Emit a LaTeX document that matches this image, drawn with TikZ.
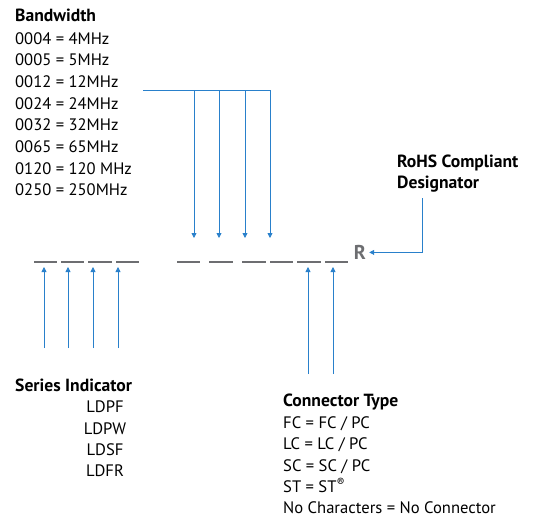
\documentclass[tikz,border=0pt]{standalone}
\usepackage{fontspec}
\setmainfont{PT Sans}
\usetikzlibrary{arrows.meta}
\definecolor{linkblue}{RGB}{41,128,203}
\definecolor{slotgray}{RGB}{109,110,113}
\begin{document}
\begin{tikzpicture}[x=1pt,y=-1pt,
    txt/.style={anchor=base west, inner sep=0pt, font=\fontsize{16.6}{18}\selectfont},
    head/.style={txt, font=\fontsize{17.6}{18}\selectfont\bfseries},
    slot/.style={slotgray, line width=2.5pt},
    feed/.style={linkblue, line width=0.8pt, -{Triangle[length=5pt,width=5pt]}}]
    \useasboundingbox (0,0) rectangle (533,517);
    %Bandwidth
    \node[head] (bw) at (15,21.7) {Bandwidth};
    \node[txt] (bw1) at (15,44) {0004 = 4MHz};
    \node[txt] (bw2) at (15,65.7) {0005 = 5MHz};
    \node[txt] (bw3) at (15,87.4) {0012 = 12MHz};
    \node[txt] (bw4) at (15,109.1) {0024 = 24MHz};
    \node[txt] (bw5) at (15,130.8) {0032 = 32MHz};
    \node[txt] (bw6) at (15,152.5) {0065 = 65MHz};
    \node[txt] (bw7) at (15,174.2) {0120 = 120 MHz};
    \node[txt] (bw8) at (15,195.9) {0250 = 250MHz};
    %RoHS
    \node[head] (rohs) at (397,167.7) {RoHS Compliant};
    \node[head] (rohs2) at (397,188.5) {Designator};
    %Series Indicator
    \node[head] (ser) at (15,391) {Series Indicator};
    \node[txt, anchor=base] (ser1) at (105,412) {LDPF};
    \node[txt, anchor=base] (ser2) at (105,434) {LDPW};
    \node[txt, anchor=base] (ser3) at (105,455) {LDSF};
    \node[txt, anchor=base] (ser4) at (105,476) {LDFR};
    %Connector Type
    \node[head] (con) at (283,406.5) {Connector Type};
    \node[txt] (con1) at (283,428) {FC = FC / PC};
    \node[txt] (con2) at (283,449.5) {LC = LC / PC};
    \node[txt] (con3) at (283,471) {SC = SC / PC};
    \node[txt] (con4) at (283,492.5) {ST = ST\textsuperscript{\textregistered}};
    \node[txt] (con5) at (283,513.5) {No Characters = No Connector};
    %Part number blanks
    \foreach \a/\b in {34/57,61/84,88/112,116/139,177/200,209/233,242/266,270/293,297/321,325/348}
        \draw[slot] (\a,262) -- (\b,262);
    \node[anchor=base, inner sep=3pt, text=slotgray, font=\fontsize{20}{20}\selectfont\bfseries] (rbox) at (360,259.5) {R};
    %Slot points
    \foreach \i/\x in {1/194,2/219,3/245,4/270}
        \coordinate (bwslot\i) at (\x,238);
    \foreach \i/\x in {1/44,2/68,3/93,4/118}
        \coordinate (serslot\i) at (\x,267);
    \foreach \i/\x in {1/308,2/333}
        \coordinate (conslot\i) at (\x,267);
    \coordinate (bwfeed) at (143,90);
    \coordinate (serfeed) at (0,348);
    \coordinate (confeed) at (0,374);
    \coordinate (rohsfeed) at (422,198);
    %Bandwidth line
    \draw[linkblue, line width=0.8pt] (bwfeed) -- (bwfeed -| bwslot4);
    \foreach \i in {1,...,4}
        \draw[feed] (bwfeed -| bwslot\i) -- (bwslot\i);
    %Series line
    \foreach \i in {1,...,4}
        \draw[feed] (serfeed -| serslot\i) -- (serslot\i);
    %Connector line
    \foreach \i in {1,2}
        \draw[feed] (confeed -| conslot\i) -- (conslot\i);
    %RoHS line
    \draw[feed] (rohsfeed) |- (rbox.east);
\end{tikzpicture}
\end{document}
